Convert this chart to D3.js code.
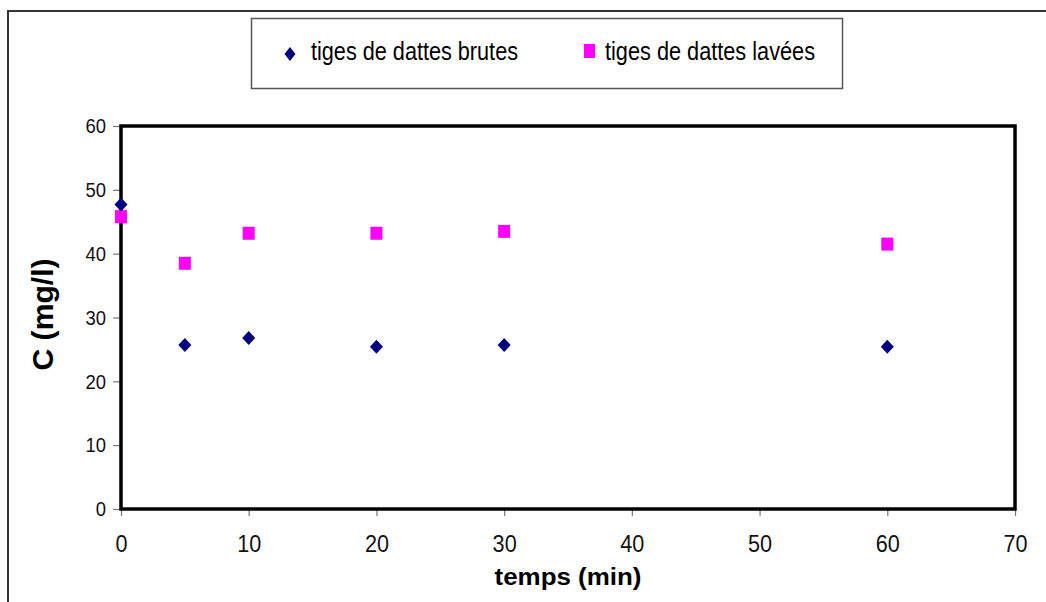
<!DOCTYPE html>
<html>
<head>
<meta charset="utf-8">
<script src="https://cdnjs.cloudflare.com/ajax/libs/d3/7.8.5/d3.min.js"></script>
<style>
  html, body { margin: 0; padding: 0; background: #fff; }
  svg { display: block; font-family: "Liberation Sans", Arial, sans-serif; }
</style>
</head>
<body>
<svg id="chart" width="1046" height="602"></svg>
<script>
// Sampling times (min)
const times = [0, 5, 10, 20, 30, 60];
// Concentration C (mg/l) for each series
const brutes = [47.7, 25.7, 26.8, 25.4, 25.7, 25.4];
const lavees = [45.8, 38.5, 43.2, 43.2, 43.5, 41.5];
const seriesNames = ["tiges de dattes brutes", "tiges de dattes lavées"];
const xTicks = [0, 10, 20, 30, 40, 50, 60, 70];
const yTicks = [0, 10, 20, 30, 40, 50, 60];

const svg = d3.select("#chart");
const plot = { left: 121, top: 126, right: 1015, bottom: 509 };

const x = d3.scaleLinear().domain([0, 70]).range([plot.left, plot.right]);
const y = d3.scaleLinear().domain([0, 60]).range([plot.bottom, plot.top]);

// Outer chart frame
svg.append("rect")
  .attr("x", 8).attr("y", 11).attr("width", 1050).attr("height", 600)
  .attr("fill", "none").attr("stroke", "#333").attr("stroke-width", 2);

// Legend box
const legend = svg.append("g");
legend.append("rect")
  .attr("x", 251.5).attr("y", 18.5).attr("width", 591).attr("height", 70)
  .attr("fill", "#fff").attr("stroke", "#555").attr("stroke-width", 1.5);

const diamond = (cx, cy, w, h) =>
  `M${cx},${cy - h / 2}L${cx + w / 2},${cy}L${cx},${cy + h / 2}L${cx - w / 2},${cy}Z`;

legend.append("path").attr("d", diamond(290, 54, 11, 14)).attr("fill", "#000080");
legend.append("text").attr("x", 311).attr("y", 60)
  .attr("font-size", 25).attr("textLength", 207).attr("lengthAdjust", "spacingAndGlyphs")
  .attr("fill", "#000").text(seriesNames[0]);
legend.append("rect").attr("x", 584).attr("y", 44).attr("width", 11).attr("height", 14)
  .attr("fill", "#ff00ff");
legend.append("text").attr("x", 605).attr("y", 60)
  .attr("font-size", 25).attr("textLength", 210).attr("lengthAdjust", "spacingAndGlyphs")
  .attr("fill", "#000").text(seriesNames[1]);

// Axes with thin grey ticks outside
const yAxis = svg.append("g").attr("transform", `translate(${plot.left},0)`)
  .call(d3.axisLeft(y).tickValues(yTicks).tickSize(8).tickPadding(7));
yAxis.select(".domain").remove();
yAxis.selectAll(".tick line").attr("stroke", "#777").attr("stroke-width", 1.2);
yAxis.selectAll(".tick text")
  .attr("x", 0)
  .attr("transform", "translate(-15,0) scale(0.88,1)")
  .attr("font-size", 21).attr("fill", "#111")
  .attr("font-family", "Liberation Sans, Arial, sans-serif");

const xAxis = svg.append("g").attr("transform", `translate(0,${plot.bottom})`)
  .call(d3.axisBottom(x).tickValues(xTicks).tickSize(7).tickPadding(11));
xAxis.select(".domain").remove();
xAxis.selectAll(".tick line").attr("stroke", "#777").attr("stroke-width", 1.2);
xAxis.selectAll(".tick text")
  .attr("y", 0).attr("dy", null)
  .attr("transform", "translate(0,43) scale(0.9,1)")
  .attr("font-size", 24).attr("fill", "#111")
  .attr("font-family", "Liberation Sans, Arial, sans-serif");

// Plot area frame
svg.append("rect")
  .attr("x", plot.left).attr("y", plot.top)
  .attr("width", plot.right - plot.left).attr("height", plot.bottom - plot.top)
  .attr("fill", "none").attr("stroke", "#000").attr("stroke-width", 3.5);

// Axis titles
svg.append("text")
  .attr("x", (plot.left + plot.right) / 2).attr("y", 585)
  .attr("text-anchor", "middle").attr("font-weight", "bold").attr("font-size", 23)
  .attr("textLength", 147).attr("lengthAdjust", "spacingAndGlyphs")
  .text("temps (min)");

svg.append("text")
  .attr("transform", `translate(53,${(plot.top + plot.bottom) / 2 - 3}) rotate(-90)`)
  .attr("text-anchor", "middle").attr("font-weight", "bold").attr("font-size", 29)
  .attr("textLength", 112).attr("lengthAdjust", "spacingAndGlyphs")
  .text("C (mg/l)");

// Data points
const data = times.map((t, i) => ({ t, b: brutes[i], l: lavees[i] }));

svg.append("g").selectAll("rect").data(data).join("rect")
  .attr("x", d => x(d.t) - 6).attr("y", d => y(d.l) - 6.5)
  .attr("width", 12).attr("height", 13)
  .attr("fill", "#ff00ff");

svg.append("g").selectAll("path").data(data).join("path")
  .attr("d", d => diamond(x(d.t), y(d.b), 13, 14))
  .attr("fill", "#000080");
</script>
</body>
</html>
